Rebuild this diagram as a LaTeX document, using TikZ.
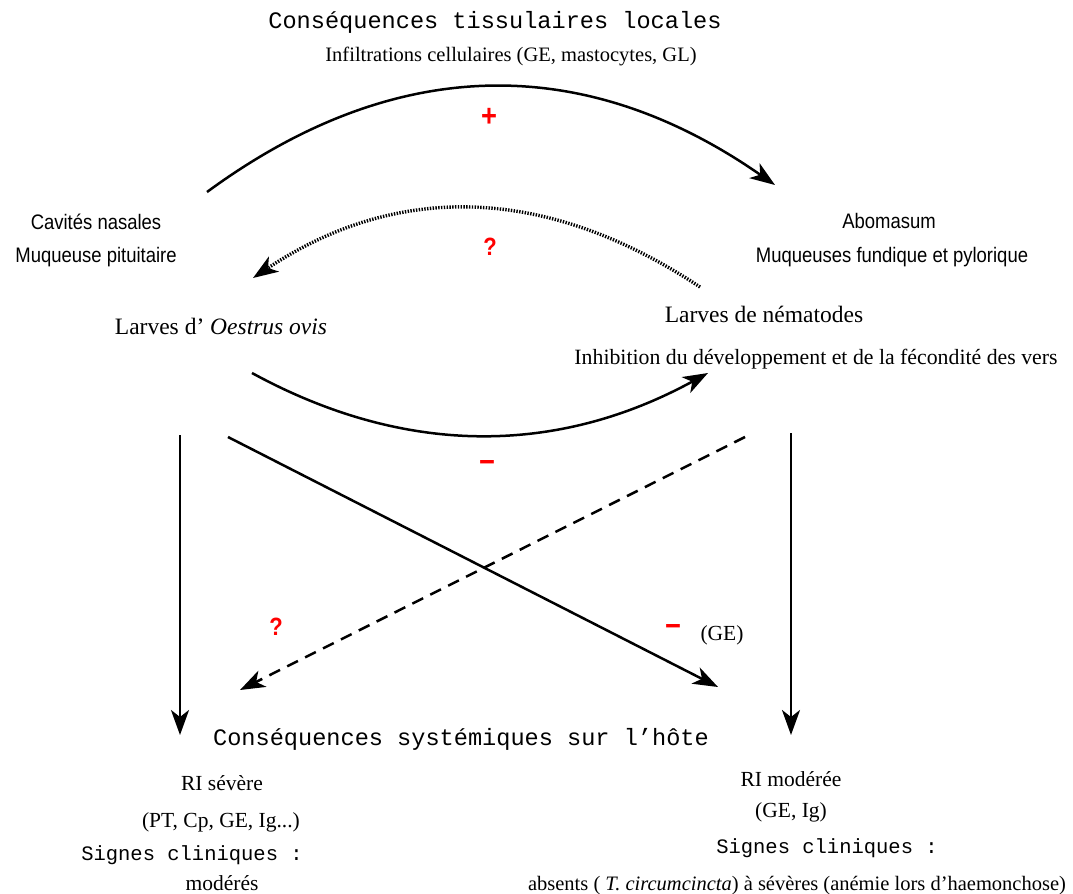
\documentclass[tikz,border=0pt]{standalone}
\usepackage{fontspec}
\setmainfont{Liberation Serif}
\setsansfont{Liberation Sans}[FakeStretch=0.88]
\setmonofont{Liberation Mono}
\usetikzlibrary{arrows.meta}

\definecolor{signred}{RGB}{255,0,0}

\tikzset{
  txt/.style={inner sep=0pt, anchor=base},
  serif/.style={txt, font=\fontsize{21.5bp}{26bp}\selectfont},
  serifsm/.style={txt, font=\fontsize{20.5bp}{25bp}\selectfont},
  serifbig/.style={txt, font=\fontsize{23.5bp}{28bp}\selectfont},
  mono/.style={txt, font=\ttfamily\fontsize{23.6bp}{28bp}\selectfont},
  monosmall/.style={txt, font=\ttfamily\fontsize{20.5bp}{25bp}\selectfont},
  sans/.style={txt, font=\sffamily\fontsize{21bp}{25bp}\selectfont},
  sign/.style={inner sep=0pt, anchor=center, text=signred,
    font=\sffamily\bfseries\fontsize{25bp}{28bp}\selectfont},
  bigsign/.style={sign, font=\sffamily\bfseries\fontsize{31bp}{34bp}\selectfont},
  tip/.style={-{Stealth[length=25bp, width=18bp, inset=7bp]}},
  link/.style={tip, line width=2.5bp},
  dotlink/.style={tip, line width=3.4bp, dash pattern=on 1.4bp off 1.4bp},
  dashlink/.style={tip, line width=2.5bp, dash pattern=on 12bp off 8bp},
}

\begin{document}
\begin{tikzpicture}[x=1bp, y=-1bp]
  \useasboundingbox (0,0) rectangle (1073,894);

  % local tissue consequences
  \node[mono]    (titlelocal) at (495,28) {Conséquences tissulaires locales};
  \node[serifsm] (infiltr)    at (511,61) {Infiltrations cellulaires (GE, mastocytes, GL)};

  % sites
  \node[sans] (cavites)   at (96,229)  {Cavités nasales};
  \node[sans] (pituit)    at (96,262)  {Muqueuse pituitaire};
  \node[sans] (abomasum)  at (889,228) {Abomasum};
  \node[sans] (fundique)  at (892,262) {Muqueuses fundique et pylorique};

  % parasites
  \node[serifbig] (oestrus)   at (221,334) {Larves d' \textit{Oestrus ovis}};
  \node[serifbig] (nematodes) at (764,322) {Larves de nématodes};
  \node[serif,font=\fontsize{21.8bp}{26bp}\selectfont]
                  (inhib)     at (816,364) {Inhibition du développement et de la fécondité des vers};

  % systemic consequences
  \node[mono]  (titlesys) at (461,745) {Conséquences systémiques sur l’hôte};

  \node[serif]     (risev)   at (222,790) {RI sévère};
  \node[serif]     (ptcp)    at (221,827) {(PT, Cp, GE, Ig...)};
  \node[monosmall] (signesL) at (192,860) {Signes cliniques :};
  \node[serif]     (moderes) at (222,890) {modérés};

  \node[serif]     (rimod)   at (791,786) {RI modérée};
  \node[serif]     (geig)    at (791,817) {(GE, Ig)};
  \node[monosmall] (signesR) at (827,853) {Signes cliniques :};
  \node[serifsm]   (absents) at (797,890) {absents ( \textit{T. circumcincta}) à sévères (anémie lors d’haemonchose)};

  % signs of the interactions
  \node[bigsign] (plus)  at (489,117) {+};
  \node[sign]    (qtop)  at (490,247) {?};
  \node[bigsign] (mid)   at (487,466) {−};
  \node[sign]    (qleft) at (276,627) {?};
  \node[bigsign] (minge) at (673,630) {−};
  \node[serif]   (ge)    at (722,640) {(GE)};

  % connector ends
  \coordinate (topA) at (207,192);
  \coordinate (topB) at (775,185);
  \coordinate (dotA) at (700,287);
  \coordinate (dotB) at (253,278);
  \coordinate (botA) at (252,373);
  \coordinate (botB) at (708,373);
  \coordinate (vlA)  at (180,435);
  \coordinate (vlB)  at (180,735);
  \coordinate (vrA)  at (791,433);
  \coordinate (vrB)  at (791,735);
  \coordinate (dgA)  at (228,437);
  \coordinate (dgB)  at (718,687);
  \coordinate (dsA)  at (745,437);
  \coordinate (dsB)  at (240,690);

  % curved interactions
  \draw[link]    (topA) .. controls (395,54) and (584,52) .. (topB);
  \draw[dotlink] (dotA) .. controls (546,185) and (397,182) .. (dotB);
  \draw[link]    (botA) .. controls (404,456) and (556,456) .. (botB);

  % straight effects on the host
  \draw[link]     (vlA) -- (vlB);
  \draw[link]     (vrA) -- (vrB);
  \draw[link]     (dgA) -- (dgB);
  \draw[dashlink] (dsA) -- (dsB);
\end{tikzpicture}
\end{document}
